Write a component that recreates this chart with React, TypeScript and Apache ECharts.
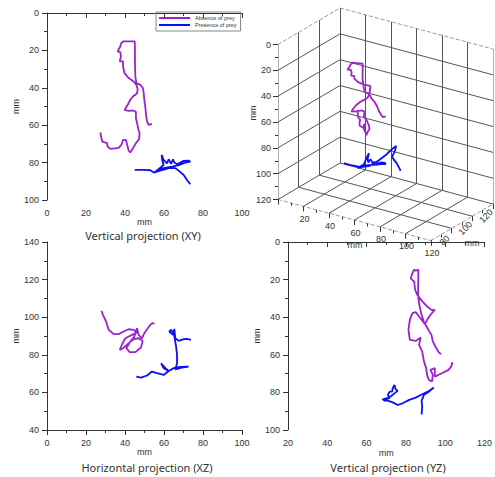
import React, { useEffect, useRef } from "react";
import * as echarts from "echarts";

const PURPLE = "#9d22cc";
const BLUE = "#0a10f5";
const NAME_ABS = "Absence of prey";
const NAME_PRE = "Presence of prey";
const TICK_FONT = "Liberation Sans, Arial, sans-serif";
const TITLE_FONT = "Noto Sans, Open Sans, sans-serif";

// ---- Vertical projection (XY): [X, Y] ----
const xyAbsence: number[][] = [
  [53.8, 59.3], [52.1, 59.8], [51.3, 58.0], [50.8, 54.5], [50.4, 50.0], [49.9, 46.4], [49.6, 42.9],
  [49.2, 40.2], [47.9, 38.4], [45.8, 37.5], [45.3, 33.9], [45.1, 26.8], [45.1, 19.6], [45.0, 15.2],
  [41.9, 15.2], [39.0, 15.2], [37.9, 16.4], [37.6, 17.9], [36.2, 20.5], [37.6, 20.9], [37.9, 23.2],
  [37.3, 25.9], [39.0, 25.9], [39.0, 28.6], [39.7, 32.1], [41.9, 34.8], [44.4, 36.6], [45.8, 38.4],
  [46.5, 40.7], [46.2, 42.9], [45.3, 43.8], [44.4, 44.3], [42.7, 46.4], [41.4, 49.1], [39.8, 51.8],
  [41.9, 52.3], [44.1, 52.1], [45.6, 52.9], [45.6, 56.3], [46.2, 58.9], [46.7, 61.6], [47.5, 64.3],
  [47.2, 67.5], [45.6, 69.6], [44.1, 72.3], [42.7, 74.6], [41.9, 73.6], [41.0, 70.0], [40.5, 67.9],
  [39.0, 67.9], [38.3, 70.2], [36.8, 72.1], [32.5, 72.7], [31.1, 71.4], [30.8, 69.6], [28.4, 68.8],
  [27.7, 66.1], [27.4, 63.9],
];
const xyPresence: number[][] = [
  [45.0, 83.9], [49.6, 83.9], [53.0, 84.1], [55.0, 85.4], [57.8, 83.0], [59.8, 81.3], [59.0, 78.2],
  [58.8, 75.9], [59.8, 78.6], [61.5, 80.4], [62.4, 78.2], [63.6, 80.7], [64.6, 78.2], [65.3, 80.0],
  [66.7, 80.9], [68.4, 80.0], [70.1, 79.1], [72.6, 78.9], [73.5, 79.5], [70.9, 80.0], [67.5, 81.3],
  [64.1, 82.1], [59.8, 83.0], [56.4, 84.3], [54.7, 85.4], [58.1, 84.3], [62.4, 83.0], [65.8, 83.0],
  [67.5, 84.3], [70.1, 86.6], [71.8, 89.3], [73.5, 91.6],
];

// ---- Horizontal projection (XZ): [X, Z] ----
const xzAbsence: number[][] = [
  [27.9, 103.4], [28.7, 101.3], [30.4, 97.4], [31.6, 93.3], [34.2, 91.0], [36.8, 91.0], [39.3, 92.4],
  [41.9, 93.6], [44.4, 93.3], [46.2, 91.9], [43.6, 90.6], [40.2, 88.8], [38.5, 85.6], [37.3, 82.6],
  [39.0, 83.5], [41.9, 86.2], [44.4, 88.3], [47.0, 88.8], [49.1, 87.4], [48.2, 83.9], [45.3, 81.4],
  [42.4, 81.4], [40.7, 83.5], [42.4, 86.7], [44.8, 89.7], [46.2, 94.2], [47.0, 90.6], [48.7, 88.8],
  [49.9, 91.5], [51.3, 93.6], [53.0, 96.0], [54.2, 97.0], [55.0, 96.3],
];
const xzPresence: number[][] = [
  [45.8, 68.4], [48.2, 67.9], [51.3, 69.0], [53.8, 71.1], [56.4, 70.2], [59.8, 69.3], [62.4, 71.4],
  [60.7, 72.9], [58.5, 75.5], [59.8, 72.9], [62.4, 71.4], [65.0, 72.9], [68.4, 73.6], [72.6, 73.7],
  [69.2, 73.2], [65.8, 72.3], [66.7, 75.5], [66.7, 80.0], [66.2, 84.4], [65.5, 88.8], [65.0, 91.5],
  [63.6, 93.3], [62.7, 92.4], [64.6, 90.6], [65.3, 93.8], [65.8, 88.8], [67.5, 87.4], [70.1, 88.3],
  [71.8, 88.5], [73.8, 88.0],
];

// ---- Vertical projection (YZ): [Z, Y] ----
const yzAbsence: number[][] = [
  [97.8, 59.7], [96.7, 58.6], [95.0, 55.6], [93.7, 52.9], [93.0, 49.4], [91.7, 47.2], [90.0, 44.0],
  [89.2, 42.6], [88.0, 38.7], [87.0, 34.3], [86.3, 29.8], [86.2, 25.4], [86.3, 21.0], [86.3, 14.7],
  [85.0, 15.3], [84.2, 14.7], [83.0, 17.4], [82.5, 19.5], [84.2, 21.0], [84.7, 25.4], [85.8, 28.1],
  [88.3, 31.6], [90.8, 34.3], [93.0, 36.1], [94.7, 36.1], [92.5, 38.7], [90.8, 41.4], [89.7, 43.7],
  [86.7, 39.6], [85.0, 37.3], [83.3, 37.8], [82.0, 41.4], [81.3, 46.7], [82.0, 52.0], [85.0, 52.6],
  [87.5, 50.8], [86.7, 54.7], [88.3, 58.3], [89.2, 63.6], [90.3, 67.1], [90.8, 70.7], [91.7, 73.4],
  [93.3, 74.2], [93.7, 70.7], [92.5, 68.0], [94.7, 67.1], [94.7, 71.6], [98.3, 69.8], [101.7, 68.0],
  [103.0, 66.3], [103.7, 63.9],
];
const yzPresence: number[][] = [
  [88.0, 91.7], [88.3, 87.6], [88.0, 84.4], [89.2, 81.3], [91.7, 79.6], [94.2, 77.4], [91.7, 79.3],
  [88.3, 81.0], [85.0, 82.8], [81.7, 84.0], [78.3, 85.8], [75.8, 86.7], [73.3, 85.3], [70.8, 84.4],
  [68.3, 83.7], [70.0, 83.1], [71.7, 83.1], [70.8, 81.3], [71.7, 79.6], [73.0, 79.6], [73.3, 77.8],
  [74.2, 76.0], [74.7, 78.2], [75.8, 79.2], [74.2, 80.5], [72.5, 81.9], [70.8, 83.1], [69.2, 84.4],
  [68.0, 83.5],
];

// ---- 3D trajectory: [X, Y, Z] ----
const absence3D: number[][] = [
  [53.8, 59.3, 97.8], [52.1, 59.8, 97], [51.3, 58, 96.5], [50.8, 54.5, 95], [50.4, 50, 93.5],
  [49.9, 46.4, 92], [49.6, 42.9, 89.5], [49.2, 40.2, 88.5], [47.9, 38.4, 88], [45.8, 37.5, 87.5],
  [45.3, 33.9, 87], [45.1, 26.8, 86.2], [45.1, 19.6, 86.3], [45, 15.2, 86.3], [41.9, 15.2, 85],
  [39, 15.2, 84.2], [37.9, 16.4, 83.5], [37.6, 17.9, 83], [36.2, 20.5, 82.5], [37.6, 20.9, 84],
  [37.9, 23.2, 84.5], [37.3, 25.9, 84.7], [39, 25.9, 85.5], [39, 28.6, 86], [39.7, 32.1, 88.5],
  [41.9, 34.8, 91.5], [44.4, 36.6, 94.5], [45.8, 38.4, 92.5], [46.5, 40.7, 91], [46.2, 42.9, 89.7],
  [45.3, 43.8, 87], [44.4, 44.3, 85], [42.7, 46.4, 83], [41.4, 49.1, 81.5], [39.8, 51.8, 82],
  [41.9, 52.3, 85], [44.1, 52.1, 87], [45.6, 52.9, 87.5], [45.6, 56.3, 86.7], [46.2, 58.9, 88.3],
  [46.7, 61.6, 89], [47.5, 64.3, 89.5], [47.2, 67.5, 90.3], [45.6, 69.6, 90.8], [44.1, 72.3, 91.5],
  [42.7, 74.6, 93.3], [41.9, 73.6, 93.5], [41, 70, 92.5], [40.5, 67.9, 94.7], [39, 67.9, 95],
  [38.3, 70.2, 96], [36.8, 72.1, 97], [32.5, 72.7, 99], [31.1, 71.4, 100.5], [30.8, 69.6, 101.5],
  [28.4, 68.8, 102.5], [27.7, 66.1, 103], [27.4, 63.9, 103.7],
];
const presence3D: number[][] = [
  [45, 83.9, 68.4], [49.6, 83.9, 68], [53, 84.1, 69], [55, 85.4, 71], [57.8, 83, 70.2],
  [59.8, 81.3, 69.5], [59, 78.2, 73], [58.8, 75.9, 75.5], [59.8, 78.6, 73], [61.5, 80.4, 71.4],
  [62.4, 78.2, 72.5], [63.6, 80.7, 72.9], [65.3, 80, 73.2], [66.7, 80.9, 73.4], [68.4, 80, 73.6],
  [70.1, 79.1, 73.7], [72.6, 78.9, 73.7], [73.5, 79.5, 73.7], [70.9, 80, 73.4], [67.5, 81.3, 73],
  [64.1, 82.1, 72.5], [59.8, 83, 71], [56.4, 84.3, 70], [54.7, 85.4, 69.5], [58.1, 84.3, 70.5],
  [62.4, 83, 72], [64.6, 81, 78], [65, 79.5, 85], [64.6, 78.2, 91], [65, 77.4, 94.2],
  [65.8, 80, 92], [66, 83, 89], [67.5, 84.3, 88.5], [70.1, 86.6, 88.3], [71.8, 89.3, 88.3],
  [73.5, 91.6, 88],
];

// 3D box ticks
const ticks3DX = [0, 20, 40, 60, 80, 100, 120];
const ticks3DY = [0, 20, 40, 60, 80, 100, 120];
const ticks3DZ = [60, 80, 100, 120];
const labels3DX = [20, 40, 60, 80, 100, 120];
const labels3DZ = [80, 100, 120];

// oblique projection of the 3D box into page pixels
function project(X: number, Y: number, Z: number): number[] {
  const dz = Z - 60;
  return [278 + X * 1.275 + dz * (62 / 60), 44.5 + Y * (155 / 120) + X * 0.342 - dz * (36.5 / 60)];
}

function App() {
  const ref = useRef<HTMLDivElement>(null);
  useEffect(() => {
    if (!ref.current) return;
    const chart = echarts.init(ref.current, undefined, { renderer: "svg" });

    const axisBase = (gridIndex: number) => ({
      gridIndex,
      type: "value" as const,
      axisLine: { show: true, lineStyle: { color: "#333", width: 1 } },
      axisTick: { show: true, length: 5, lineStyle: { color: "#333" } },
      minorTick: { show: true, splitNumber: 2, length: 3, lineStyle: { color: "#333" } },
      axisLabel: { fontSize: 9, color: "#333", margin: 8, fontFamily: TICK_FONT },
      splitLine: { show: false },
      name: "mm",
      nameLocation: "middle" as const,
      nameTextStyle: { fontSize: 9, color: "#333", fontFamily: TICK_FONT },
    });

    const lineSeries = (name: string, data: number[][], color: string, idx: number) => ({
      type: "line",
      name,
      data,
      xAxisIndex: idx,
      yAxisIndex: idx,
      showSymbol: false,
      symbol: "none",
      lineStyle: { color, width: 1.8 },
      itemStyle: { color },
      silent: true,
    });

    // 3D box segments
    const dark: any[] = [];
    const light: any[] = [];
    const lightSolid: any[] = [];
    const seg = (a: number[], b: number[]) => ({
      coords: [project(a[0], a[1], a[2]), project(b[0], b[1], b[2])],
    });
    // back wall Z=120
    ticks3DX.forEach((x) => {
      if (x === 120) lightSolid.push(seg([x, 0, 120], [x, 120, 120]));
      else dark.push(seg([x, 0, 120], [x, 120, 120]));
    });
    ticks3DY.forEach((y) => {
      if (y === 0) light.push(seg([0, y, 120], [120, y, 120]));
      else dark.push(seg([0, y, 120], [120, y, 120]));
    });
    // left wall X=0
    ticks3DZ.forEach((z) => {
      if (z === 60) lightSolid.push(seg([0, 0, z], [0, 120, z]));
      else if (z !== 120) dark.push(seg([0, 0, z], [0, 120, z]));
    });
    ticks3DY.forEach((y) => {
      if (y === 0) light.push(seg([0, y, 60], [0, y, 120]));
      else dark.push(seg([0, y, 60], [0, y, 120]));
    });
    // floor Y=120
    ticks3DZ.forEach((z) => {
      if (z === 60) light.push(seg([0, 120, z], [120, 120, z]));
      else if (z !== 120) dark.push(seg([0, 120, z], [120, 120, z]));
    });
    ticks3DX.forEach((x) => {
      if (x === 120) light.push(seg([x, 120, 60], [x, 120, 120]));
      else if (x !== 0) dark.push(seg([x, 120, 60], [x, 120, 120]));
    });
    // ticks
    const tickSegs: any[] = [];
    for (let y = 0; y <= 120; y += 10) {
      const p = project(0, y, 60);
      const L = y % 20 === 0 ? 5 : 3;
      tickSegs.push({ coords: [[p[0] - L, p[1]], p] });
    }
    for (let x = 0; x <= 120; x += 10) {
      const p = project(x, 120, 60);
      const L = x % 20 === 0 ? 5 : 3;
      tickSegs.push({ coords: [p, [p[0], p[1] + L]] });
    }
    for (let z = 60; z <= 120; z += 10) {
      const p = project(120, 120, z);
      const L = z % 20 === 0 ? 5 : 3;
      tickSegs.push({ coords: [p, [p[0], p[1] + L]] });
    }

    const linesSeries = (data: any[], color: string, type: string, width = 1) => ({
      type: "lines",
      coordinateSystem: "cartesian2d",
      xAxisIndex: 3,
      yAxisIndex: 3,
      data,
      silent: true,
      lineStyle: { color, width, type, opacity: 1, curveness: 0 },
      effect: { show: false },
    });

    const graphics: any[] = [];
    const txt = (text: string, x: number, y: number, opts: any = {}) =>
      graphics.push({
        type: "text",
        x,
        y,
        rotation: opts.rotation || 0,
        silent: true,
        style: {
          text,
          fontSize: opts.fontSize || 9,
          fontFamily: opts.fontFamily || TICK_FONT,
          fill: "#333",
          align: opts.align || "center",
          verticalAlign: "middle",
        },
      });
    ticks3DY.forEach((y) => {
      const p = project(0, y, 60);
      txt(String(y), p[0] - 7, p[1], { align: "right" });
    });
    labels3DX.forEach((x) => {
      const p = project(x, 120, 60);
      txt(String(x), p[0] + 1, p[1] + 12.5);
    });
    labels3DZ.forEach((z) => {
      const p = project(120, 120, z);
      txt(String(z), p[0] - 7, p[1] + 12, { rotation: 0.8 });
    });
    txt("mm", 253, 113, { rotation: Math.PI / 2 });
    txt("mm", 355, 245);
    txt("mm", 472, 243);
    txt("Vertical projection (XY)", 143, 235, { fontSize: 11, fontFamily: TITLE_FONT });
    txt("Horizontal projection (XZ)", 147, 467, { fontSize: 11, fontFamily: TITLE_FONT });
    txt("Vertical projection (YZ)", 388, 467, { fontSize: 11, fontFamily: TITLE_FONT });

    chart.setOption({
      animation: false,
      grid: [
        { left: 47, top: 13, width: 195, height: 187 },
        { left: 47, top: 242, width: 195, height: 188 },
        { left: 288, top: 242, width: 200, height: 188 },
        { left: 0, top: 0, width: 495, height: 477 },
      ],
      xAxis: [
        { ...axisBase(0), min: 0, max: 100, interval: 20, nameGap: 17 },
        { ...axisBase(1), min: 0, max: 100, interval: 20, nameGap: 17 },
        { ...axisBase(2), min: 20, max: 120, interval: 20, nameGap: 18 },
        { gridIndex: 3, type: "value", min: 0, max: 495, show: false },
      ],
      yAxis: [
        { ...axisBase(0), min: 0, max: 100, interval: 20, inverse: true, nameGap: 27 },
        { ...axisBase(1), min: 40, max: 140, interval: 20, nameGap: 27 },
        { ...axisBase(2), min: 0, max: 100, interval: 20, inverse: true, nameGap: 27 },
        { gridIndex: 3, type: "value", min: 0, max: 477, inverse: true, show: false },
      ],
      legend: {
        data: [NAME_ABS, NAME_PRE],
        left: 156,
        top: 12,
        orient: "vertical",
        icon: "rect",
        itemWidth: 31,
        itemHeight: 2,
        itemGap: 1,
        padding: [3, 4, 3, 3],
        borderColor: "#888",
        borderWidth: 1,
        selectedMode: false,
        textStyle: { fontSize: 5.5, color: "#333", fontFamily: TICK_FONT },
      },
      graphic: graphics,
      series: [
        lineSeries(NAME_ABS, xyAbsence, PURPLE, 0),
        lineSeries(NAME_PRE, xyPresence, BLUE, 0),
        lineSeries(NAME_ABS, xzAbsence, PURPLE, 1),
        lineSeries(NAME_PRE, xzPresence, BLUE, 1),
        lineSeries(NAME_ABS, yzAbsence, PURPLE, 2),
        lineSeries(NAME_PRE, yzPresence, BLUE, 2),
        linesSeries(light, "#9a9a9a", "dashed"),
        linesSeries(lightSolid, "#b0b0b0", "solid"),
        linesSeries(dark, "#555", "solid"),
        linesSeries(tickSegs, "#333", "solid"),
        lineSeries(NAME_ABS, absence3D.map((p) => project(p[0], p[1], p[2])), PURPLE, 3),
        lineSeries(NAME_PRE, presence3D.map((p) => project(p[0], p[1], p[2])), BLUE, 3),
      ],
    });
    return () => chart.dispose();
  }, []);
  return (
    <div
      ref={ref}
      style={{ position: "absolute", left: 0, top: 0, width: 495, height: 477, background: "#fff" }}
    />
  );
}

export default App;
